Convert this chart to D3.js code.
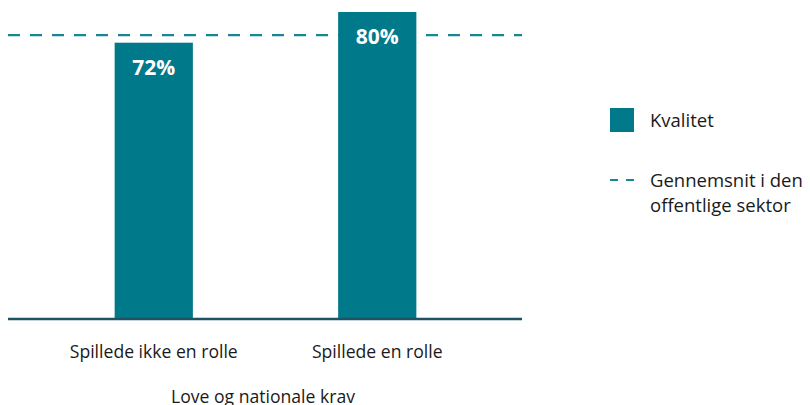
<!DOCTYPE html>
<html>
<head>
<meta charset="utf-8">
<script src="https://cdn.jsdelivr.net/npm/d3@7.9.0/dist/d3.min.js"></script>
<style>
  body { margin: 0; background: #fff; }
  svg { display: block; font-family: "Open Sans", "Noto Sans", sans-serif; }
</style>
</head>
<body>
<div id="chart"></div>
<script>
// data
const categories = ['Spillede ikke en rolle', 'Spillede en rolle'];
const quality = [72, 80];
const sectorAverage = 74;
const axisTitle = 'Love og nationale krav';
const legendLabels = ['Kvalitet', ['Gennemsnit i den', 'offentlige sektor']];

const width = 810;
const height = 405;
const barColor = '#00798a';
const axisColor = '#1d5363';
const dashColor = '#1a8593';
const textColor = '#1a1a1a';

const svg = d3.select('#chart')
    .append('svg')
    .attr('width', width)
    .attr('height', height);

const plot = { left: 8, right: 522, top: 12, bottom: 319 };

const xScale = d3.scaleBand()
    .domain(categories)
    .range([42, 489])
    .paddingInner(0.65)
    .paddingOuter(0.325);

const yScale = d3.scaleLinear()
    .domain([0, 80])
    .range([plot.bottom, plot.top]);

// average line, behind the bars
svg.append('line')
    .attr('x1', plot.left)
    .attr('x2', plot.right)
    .attr('y1', yScale(sectorAverage))
    .attr('y2', yScale(sectorAverage))
    .attr('stroke', dashColor)
    .attr('stroke-width', 2.2)
    .attr('stroke-dasharray', '12 10');

// bars
svg.append('g')
    .selectAll('rect')
    .data(quality)
    .join('rect')
    .attr('x', (d, i) => xScale(categories[i]))
    .attr('y', d => yScale(d))
    .attr('width', xScale.bandwidth())
    .attr('height', d => yScale(0) - yScale(d))
    .attr('fill', barColor);

// value labels inside bars
svg.append('g')
    .selectAll('text')
    .data(quality)
    .join('text')
    .attr('x', (d, i) => xScale(categories[i]) + xScale.bandwidth() / 2)
    .attr('y', d => yScale(d) + 32)
    .attr('text-anchor', 'middle')
    .attr('fill', '#fff')
    .attr('font-weight', 'bold')
    .attr('font-size', 21)
    .text(d => `${d}%`);

// x axis
const xAxis = svg.append('g')
    .attr('transform', `translate(0, ${plot.bottom})`)
    .call(d3.axisBottom(xScale).tickSize(0).tickPadding(27));
xAxis.select('.domain').remove();
xAxis.selectAll('text')
    .attr('font-size', 17.6)
    .attr('fill', textColor)
    .style('font-family', '"Open Sans", "Noto Sans", sans-serif');

svg.append('line')
    .attr('x1', plot.left)
    .attr('x2', plot.right)
    .attr('y1', plot.bottom)
    .attr('y2', plot.bottom)
    .attr('stroke', axisColor)
    .attr('stroke-width', 2.5);

svg.append('text')
    .attr('x', 263)
    .attr('y', 403)
    .attr('text-anchor', 'middle')
    .attr('font-size', 17.6)
    .attr('fill', textColor)
    .text(axisTitle);

// legend
const legend = svg.append('g').attr('transform', 'translate(610, 0)');
legend.append('rect')
    .attr('x', 0).attr('y', 108)
    .attr('width', 24).attr('height', 24)
    .attr('fill', barColor);
legend.append('text')
    .attr('x', 40).attr('y', 127)
    .attr('font-size', 18.5)
    .attr('fill', textColor)
    .text(legendLabels[0]);
legend.append('line')
    .attr('x1', 0).attr('x2', 24)
    .attr('y1', 180).attr('y2', 180)
    .attr('stroke', dashColor)
    .attr('stroke-width', 2.2)
    .attr('stroke-dasharray', '8 8');
legend.append('text')
    .attr('x', 40).attr('y', 187)
    .attr('font-size', 18.5)
    .attr('fill', textColor)
    .selectAll('tspan')
    .data(legendLabels[1])
    .join('tspan')
    .attr('x', 40)
    .attr('dy', (d, i) => i === 0 ? 0 : 25)
    .text(d => d);
</script>
</body>
</html>
